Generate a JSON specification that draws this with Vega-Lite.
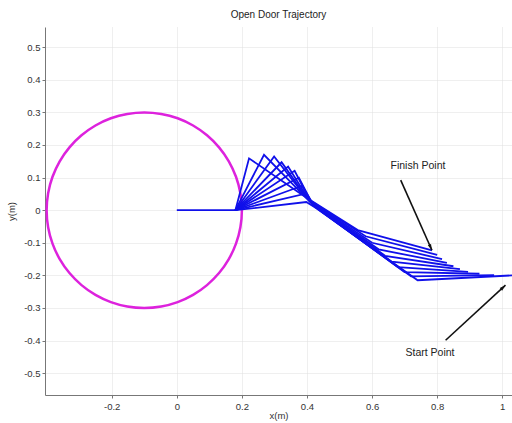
{
  "$schema": "https://vega.github.io/schema/vega-lite/v6.json",
  "width": 467,
  "height": 368,
  "autosize": {"type": "none"},
  "padding": {"left": 45, "top": 27, "right": 0, "bottom": 28},
  "background": "white",
  "title": {"text": "Open Door Trajectory", "fontSize": 10, "font": "Liberation Sans", "fontWeight": "normal", "color": "#222", "offset": 7, "anchor": "middle"},
  "config": {
    "view": {"stroke": null},
    "axis": {
      "labelFont": "Liberation Sans", "labelFontSize": 9.5, "labelColor": "#333",
      "titleFont": "Liberation Sans", "titleFontSize": 9.5, "titleFontWeight": "normal", "titleColor": "#333",
      "domainColor": "#777", "tickColor": "#777", "tickSize": 3,
      "gridColor": "#dedede", "gridDash": [1, 1], "gridWidth": 1
    }
  },
  "datasets": {
    "circle": [
      {"o": 0, "x": 0.2, "y": 0}, {"o": 1, "x": 0.1954, "y": 0.0521}, {"o": 2, "x": 0.1819, "y": 0.1026},
      {"o": 3, "x": 0.1598, "y": 0.15}, {"o": 4, "x": 0.1298, "y": 0.1928}, {"o": 5, "x": 0.0928, "y": 0.2298},
      {"o": 6, "x": 0.05, "y": 0.2598}, {"o": 7, "x": 0.0026, "y": 0.2819}, {"o": 8, "x": -0.0479, "y": 0.2954},
      {"o": 9, "x": -0.1, "y": 0.3}, {"o": 10, "x": -0.1521, "y": 0.2954}, {"o": 11, "x": -0.2026, "y": 0.2819},
      {"o": 12, "x": -0.25, "y": 0.2598}, {"o": 13, "x": -0.2928, "y": 0.2298}, {"o": 14, "x": -0.3298, "y": 0.1928},
      {"o": 15, "x": -0.3598, "y": 0.15}, {"o": 16, "x": -0.3819, "y": 0.1026}, {"o": 17, "x": -0.3954, "y": 0.0521},
      {"o": 18, "x": -0.4, "y": 0}, {"o": 19, "x": -0.3954, "y": -0.0521}, {"o": 20, "x": -0.3819, "y": -0.1026},
      {"o": 21, "x": -0.3598, "y": -0.15}, {"o": 22, "x": -0.3298, "y": -0.1928}, {"o": 23, "x": -0.2928, "y": -0.2298},
      {"o": 24, "x": -0.25, "y": -0.2598}, {"o": 25, "x": -0.2026, "y": -0.2819}, {"o": 26, "x": -0.1521, "y": -0.2954},
      {"o": 27, "x": -0.1, "y": -0.3}, {"o": 28, "x": -0.0479, "y": -0.2954}, {"o": 29, "x": 0.0026, "y": -0.2819},
      {"o": 30, "x": 0.05, "y": -0.2598}, {"o": 31, "x": 0.0928, "y": -0.2298}, {"o": 32, "x": 0.1298, "y": -0.1928},
      {"o": 33, "x": 0.1598, "y": -0.15}, {"o": 34, "x": 0.1819, "y": -0.1026}, {"o": 35, "x": 0.1954, "y": -0.0521}
    ],
    "arm": [
      {"c": "h", "o": 0, "x": 0, "y": 0}, {"c": "h", "o": 1, "x": 0.18, "y": 0},
      {"c": "c0", "o": 0, "x": 0.18, "y": 0}, {"c": "c0", "o": 1, "x": 0.398, "y": 0.025}, {"c": "c0", "o": 2, "x": 0.43, "y": 0.005}, {"c": "c0", "o": 3, "x": 0.74, "y": -0.215}, {"c": "c0", "o": 4, "x": 1.03, "y": -0.2},
      {"c": "c1", "o": 0, "x": 0.18, "y": 0}, {"c": "c1", "o": 1, "x": 0.392, "y": 0.05}, {"c": "c1", "o": 2, "x": 0.426, "y": 0.009}, {"c": "c1", "o": 3, "x": 0.72, "y": -0.203}, {"c": "c1", "o": 4, "x": 0.975, "y": -0.199},
      {"c": "c2", "o": 0, "x": 0.18, "y": 0}, {"c": "c2", "o": 1, "x": 0.385, "y": 0.075}, {"c": "c2", "o": 2, "x": 0.422, "y": 0.013}, {"c": "c2", "o": 3, "x": 0.70, "y": -0.19}, {"c": "c2", "o": 4, "x": 0.93, "y": -0.195},
      {"c": "c3", "o": 0, "x": 0.18, "y": 0}, {"c": "c3", "o": 1, "x": 0.375, "y": 0.1}, {"c": "c3", "o": 2, "x": 0.418, "y": 0.017}, {"c": "c3", "o": 3, "x": 0.68, "y": -0.175}, {"c": "c3", "o": 4, "x": 0.895, "y": -0.189},
      {"c": "c4", "o": 0, "x": 0.18, "y": 0}, {"c": "c4", "o": 1, "x": 0.362, "y": 0.121}, {"c": "c4", "o": 2, "x": 0.414, "y": 0.021}, {"c": "c4", "o": 3, "x": 0.66, "y": -0.158}, {"c": "c4", "o": 4, "x": 0.87, "y": -0.181},
      {"c": "c5", "o": 0, "x": 0.18, "y": 0}, {"c": "c5", "o": 1, "x": 0.342, "y": 0.134}, {"c": "c5", "o": 2, "x": 0.41, "y": 0.025}, {"c": "c5", "o": 3, "x": 0.64, "y": -0.14}, {"c": "c5", "o": 4, "x": 0.85, "y": -0.172},
      {"c": "c6", "o": 0, "x": 0.18, "y": 0}, {"c": "c6", "o": 1, "x": 0.322, "y": 0.147}, {"c": "c6", "o": 2, "x": 0.406, "y": 0.029}, {"c": "c6", "o": 3, "x": 0.62, "y": -0.12}, {"c": "c6", "o": 4, "x": 0.83, "y": -0.162},
      {"c": "c7", "o": 0, "x": 0.18, "y": 0}, {"c": "c7", "o": 1, "x": 0.299, "y": 0.165}, {"c": "c7", "o": 2, "x": 0.402, "y": 0.033}, {"c": "c7", "o": 3, "x": 0.60, "y": -0.10}, {"c": "c7", "o": 4, "x": 0.815, "y": -0.15},
      {"c": "c8", "o": 0, "x": 0.18, "y": 0}, {"c": "c8", "o": 1, "x": 0.268, "y": 0.17}, {"c": "c8", "o": 2, "x": 0.398, "y": 0.037}, {"c": "c8", "o": 3, "x": 0.58, "y": -0.08}, {"c": "c8", "o": 4, "x": 0.80, "y": -0.137},
      {"c": "c9", "o": 0, "x": 0.18, "y": 0}, {"c": "c9", "o": 1, "x": 0.222, "y": 0.159}, {"c": "c9", "o": 2, "x": 0.394, "y": 0.041}, {"c": "c9", "o": 3, "x": 0.556, "y": -0.061}, {"c": "c9", "o": 4, "x": 0.784, "y": -0.123}
    ],
    "arrows": [
      {"a": "finish", "o": 0, "x": 0.688, "y": 0.092}, {"a": "finish", "o": 1, "x": 0.784, "y": -0.123},
      {"a": "start", "o": 0, "x": 0.826, "y": -0.399}, {"a": "start", "o": 1, "x": 1.01, "y": -0.23}
    ],
    "tips": [
      {"a": "finish", "x": 0.784, "y": -0.123}
    ],
    "tips2": [
      {"a": "start", "x": 1.01, "y": -0.23}
    ],
    "labels": [
      {"t": "Finish Point", "x": 0.741, "y": 0.135},
      {"t": "Start Point", "x": 0.778, "y": -0.438}
    ]
  },
  "encoding": {
    "x": {
      "field": "x", "type": "quantitative",
      "scale": {"domain": [-0.405, 1.03], "nice": false, "zero": false},
      "axis": {
        "title": "x(m)", "values": [-0.2, 0, 0.2, 0.4, 0.6, 0.8, 1],
        "labelExpr": "datum.value < 0 ? '-' + format(-datum.value, '.1~f') : format(datum.value, '.1~f')",
        "labelPadding": 3, "titlePadding": 0, "grid": true
      }
    },
    "y": {
      "field": "y", "type": "quantitative",
      "scale": {"domain": [-0.567, 0.562], "nice": false, "zero": false},
      "axis": {
        "title": "y(m)", "values": [-0.5, -0.4, -0.3, -0.2, -0.1, 0, 0.1, 0.2, 0.3, 0.4, 0.5],
        "labelExpr": "datum.value < 0 ? '-' + format(-datum.value, '.1~f') : format(datum.value, '.1~f')",
        "labelPadding": 2, "titlePadding": 7, "grid": true
      }
    }
  },
  "layer": [
    {
      "data": {"name": "circle"},
      "mark": {"type": "line", "color": "#dd22dd", "strokeWidth": 2.5, "clip": true, "interpolate": "cardinal-closed"},
      "encoding": {"order": {"field": "o", "type": "quantitative"}}
    },
    {
      "data": {"name": "arm"},
      "mark": {"type": "line", "color": "#1010ea", "strokeWidth": 1.8, "clip": true, "strokeJoin": "miter"},
      "encoding": {"detail": {"field": "c", "type": "nominal"}, "order": {"field": "o", "type": "quantitative"}}
    },
    {
      "data": {"name": "arrows"},
      "mark": {"type": "line", "color": "#111", "strokeWidth": 1.6},
      "encoding": {"detail": {"field": "a", "type": "nominal"}, "order": {"field": "o", "type": "quantitative"}}
    },
    {
      "data": {"name": "tips"},
      "mark": {"type": "point", "shape": "M0,0 L-0.45,1.6 L0.45,1.6 Z", "filled": true, "color": "#111", "opacity": 1, "size": 60, "angle": 156},
      "encoding": {}
    },
    {
      "data": {"name": "tips2"},
      "mark": {"type": "point", "shape": "M0,0 L-0.45,1.6 L0.45,1.6 Z", "filled": true, "color": "#111", "opacity": 1, "size": 60, "angle": 47.5},
      "encoding": {}
    },
    {
      "data": {"name": "labels"},
      "mark": {"type": "text", "font": "Liberation Sans", "fontSize": 10.5, "color": "#222"},
      "encoding": {"text": {"field": "t", "type": "nominal"}}
    }
  ]
}
